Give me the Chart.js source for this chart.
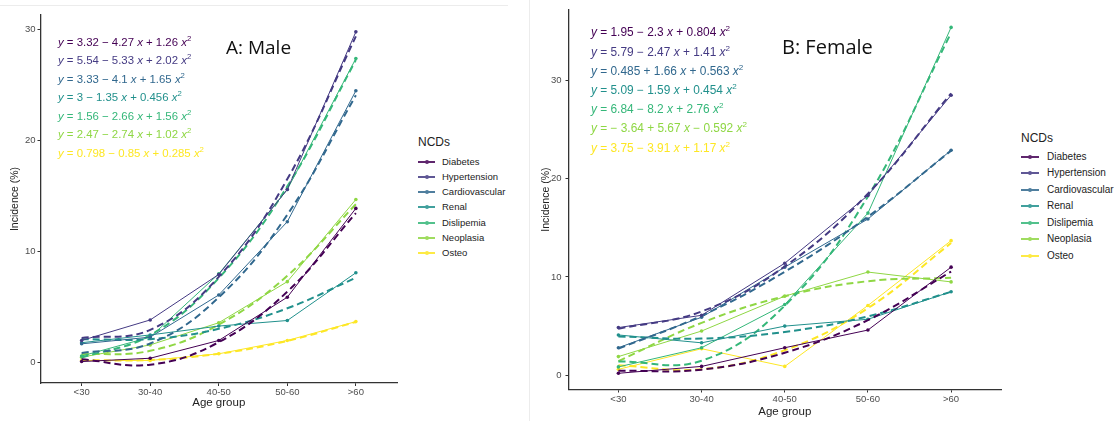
<!DOCTYPE html>
<html>
<head>
<meta charset="utf-8">
<title>NCD incidence by age group</title>
<script src="https://cdn.jsdelivr.net/npm/chart.js@4.4.0/dist/chart.umd.min.js"></script>
<style>
  body { margin: 0; background: #fff; width: 1117px; height: 421px; overflow: hidden; position: relative;
         font-family: "Liberation Sans", Arial, sans-serif; }
  canvas { position: absolute; top: 0; }
  #male { left: 0; }
  #female { left: 530px; }
  .eq { position: absolute; white-space: nowrap; line-height: 14px; }
  .eq sup { font-size: 0.68em; vertical-align: 0.6em; line-height: 0; }
  .ptitle { position: absolute; white-space: nowrap; font-family: "Open Sans", sans-serif; font-size: 19px;
            line-height: 24px; color: #111; }
  .lg-title { position: absolute; font-size: 12px; line-height: 14px; color: #222; }
  .lg-item { position: absolute; white-space: nowrap; line-height: 12px; color: #222; }
  .lg-sym { position: absolute; top: 5px; height: 2px; opacity: 0.85; }
  .lg-dot { position: absolute; top: -1px; width: 4px; height: 4px; border-radius: 2px; }
  .edge { position: absolute; background: #ececec; }
</style>
</head>
<body>
<div class="edge" style="left:0;top:5px;width:508px;height:1px"></div>
<div class="edge" style="left:529px;top:0;width:1px;height:421px"></div>
<canvas id="male" width="401" height="421"></canvas>
<canvas id="female" width="475" height="421"></canvas>
<div id="overlay"></div>
<script>
const ageGroups = ["<30", "30-40", "40-50", "50-60", ">60"];
const ncds = ["Diabetes", "Hypertension", "Cardiovascular", "Renal", "Dislipemia", "Neoplasia", "Osteo"];
const ncdColors = ["#440154", "#443A83", "#31688E", "#21908C", "#35B779", "#8FD744", "#FDE725"];

// A: Male - observed incidence (%)
const maleDiabetes = [0.1, 0.4, 2.0, 5.9, 13.9];
const maleHypertension = [2.0, 3.85, 7.95, 15.6, 29.8];
const maleCardiovascular = [1.7, 2.3, 6.1, 12.7, 24.5];
const maleRenal = [1.8, 2.5, 3.3, 3.8, 8.1];
const maleDislipemia = [0.6, 2.3, 8.0, 15.6, 27.4];
const maleNeoplasia = [0.5, 1.6, 3.6, 7.3, 14.7];
const maleOsteo = [0.2, 0.2, 0.8, 2.0, 3.7];

// A: Male - quadratic fit (dashed) at each age group
const maleDiabetesFit = [0.31, -0.18, 1.85, 6.40, 13.47];
const maleHypertensionFit = [2.23, 2.96, 7.73, 16.54, 29.39];
const maleCardiovascularFit = [0.88, 1.73, 5.88, 13.33, 24.08];
const maleRenalFit = [2.11, 2.12, 3.05, 4.90, 7.65];
const maleDislipemiaFit = [0.46, 2.48, 7.62, 15.88, 27.26];
const maleNeoplasiaFit = [0.75, 1.07, 3.43, 7.83, 14.27];
const maleOsteoFit = [0.23, 0.24, 0.81, 1.96, 3.67];

const maleEquations = [
  "3.32 − 4.27 x + 1.26 x^2",
  "5.54 − 5.33 x + 2.02 x^2",
  "3.33 − 4.1 x + 1.65 x^2",
  "3 − 1.35 x + 0.456 x^2",
  "1.56 − 2.66 x + 1.56 x^2",
  "2.47 − 2.74 x + 1.02 x^2",
  "0.798 − 0.85 x + 0.285 x^2"
];

// B: Female - observed incidence (%)
const femaleDiabetes = [0.2, 0.9, 2.8, 4.6, 11.0];
const femaleHypertension = [4.85, 6.1, 11.4, 18.3, 28.5];
const femaleCardiovascular = [2.8, 5.9, 11.0, 15.9, 22.9];
const femaleRenal = [4.1, 3.3, 5.0, 5.7, 8.5];
const femaleDislipemia = [0.85, 2.8, 7.2, 16.5, 35.4];
const femaleNeoplasia = [1.9, 4.5, 8.05, 10.5, 9.5];
const femaleOsteo = [0.6, 2.7, 0.9, 7.1, 13.7];

// B: Female - quadratic fit (dashed) at each age group
const femaleDiabetesFit = [0.45, 0.57, 2.29, 5.61, 10.55];
const femaleHypertensionFit = [4.73, 6.49, 11.07, 18.47, 28.69];
const femaleCardiovascularFit = [2.71, 6.06, 10.53, 16.13, 22.86];
const femaleRenalFit = [3.95, 3.73, 4.41, 5.99, 8.49];
const femaleDislipemiaFit = [1.40, 1.48, 7.08, 18.20, 34.84];
const femaleNeoplasiaFit = [1.44, 5.33, 8.04, 9.57, 9.91];
const femaleOsteoFit = [1.01, 0.61, 2.55, 6.83, 13.45];

const femaleEquations = [
  "1.95 − 2.3 x + 0.804 x^2",
  "5.79 − 2.47 x + 1.41 x^2",
  "0.485 + 1.66 x + 0.563 x^2",
  "5.09 − 1.59 x + 0.454 x^2",
  "6.84 − 8.2 x + 2.76 x^2",
  "− 3.64 + 5.67 x − 0.592 x^2",
  "3.75 − 3.91 x + 1.17 x^2"
];

const yTicks = [0, 10, 20, 30];

function toPoints(values) {
  return values.map((v, i) => ({ x: i + 1, y: v }));
}

function buildDatasets(observed, fitted) {
  const sets = [];
  ncds.forEach((name, k) => {
    sets.push({
      label: name + " fit",
      data: toPoints(fitted[k]),
      borderColor: ncdColors[k],
      borderWidth: 2,
      borderDash: [7, 4],
      pointRadius: 0,
      tension: 0.4,
      fill: false
    });
    sets.push({
      label: name,
      data: toPoints(observed[k]),
      borderColor: ncdColors[k],
      backgroundColor: ncdColors[k],
      borderWidth: 1,
      pointRadius: 1.8,
      pointBorderWidth: 0,
      tension: 0,
      fill: false
    });
  });
  return sets;
}

function makeChart(id, observed, fitted, o) {
  const ctx = document.getElementById(id).getContext("2d");
  return new Chart(ctx, {
    type: "line",
    data: { datasets: buildDatasets(observed, fitted) },
    options: {
      responsive: false,
      animation: false,
      layout: { padding: { top: o.top, right: o.right, left: 0, bottom: 0 } },
      plugins: { legend: { display: false }, tooltip: { enabled: false } },
      scales: {
        x: {
          type: "linear",
          min: 0.4,
          max: 5.6,
          afterBuildTicks: s => { s.ticks = ageGroups.map((_, i) => ({ value: i + 1 })); },
          afterFit: s => { s.height = o.xHeight; },
          ticks: {
            callback: v => ageGroups[v - 1],
            color: "#4d4d4d",
            font: { size: 9.5, family: "Liberation Sans" },
            padding: 1,
            maxRotation: 0,
            autoSkip: false
          },
          grid: { display: true, drawOnChartArea: false, drawTicks: true, tickLength: 3, color: "#333" },
          border: { display: true, color: "#333", width: 1.3 },
          title: {
            display: true, text: "Age group", color: "#222",
            font: { size: 11.5, family: "Liberation Sans" },
            padding: { top: 0, bottom: o.xTitlePad }
          }
        },
        y: {
          min: o.yMin,
          max: o.yMax,
          afterBuildTicks: s => { s.ticks = yTicks.map(v => ({ value: v })); },
          afterFit: s => { s.width = o.yWidth; },
          ticks: {
            color: "#4d4d4d",
            font: { size: 9.5, family: "Liberation Sans" },
            padding: o.yTickPad
          },
          grid: { display: true, drawOnChartArea: false, drawTicks: true, tickLength: 3, color: "#333" },
          border: { display: true, color: "#333", width: 1.3 },
          title: {
            display: true, text: "Incidence (%)", color: "#222",
            font: { size: 10.5, family: "Liberation Sans" },
            padding: { top: o.yTitlePad, bottom: 0 }
          }
        }
      }
    }
  });
}

makeChart("male",
  [maleDiabetes, maleHypertension, maleCardiovascular, maleRenal, maleDislipemia, maleNeoplasia, maleOsteo],
  [maleDiabetesFit, maleHypertensionFit, maleCardiovascularFit, maleRenalFit, maleDislipemiaFit, maleNeoplasiaFit, maleOsteoFit],
  { top: 15, right: 1, xHeight: 38, yWidth: 40.5, yMin: -1.83, yMax: 31.32, xTitlePad: 11, yTitlePad: 9, yTickPad: 2 });

makeChart("female",
  [femaleDiabetes, femaleHypertension, femaleCardiovascular, femaleRenal, femaleDislipemia, femaleNeoplasia, femaleOsteo],
  [femaleDiabetesFit, femaleHypertensionFit, femaleCardiovascularFit, femaleRenalFit, femaleDislipemiaFit, femaleNeoplasiaFit, femaleOsteoFit],
  { top: 4, right: 2, xHeight: 31.5, yWidth: 38.5, yMin: -1.45, yMax: 37.2, xTitlePad: 2, yTitlePad: 10, yTickPad: 4 });

// equations, panel titles and legends as html text
const overlay = document.getElementById("overlay");

function addEl(cls, html, left, top, extra) {
  const d = document.createElement("div");
  d.className = cls;
  d.innerHTML = html;
  d.style.left = Math.round(left) + "px";
  d.style.top = Math.round(top) + "px";
  if (extra) Object.assign(d.style, extra);
  overlay.appendChild(d);
  return d;
}

function eqHtml(s) {
  return "<i>y</i> = " + s.replace(/x\^2/g, "<i>x</i><sup>2</sup>").replace(/ x /g, " <i>x</i> ");
}

function addEquations(eqs, left, firstY, step, size) {
  eqs.forEach((s, k) => {
    addEl("eq", eqHtml(s), left, firstY + k * step - 7, { color: ncdColors[k], fontSize: size + "px" });
  });
}

function addLegend(left, titleY, firstY, step, symW, textLeft, size) {
  addEl("lg-title", "NCDs", left, titleY - 7);
  ncds.forEach((name, k) => {
    const item = addEl("lg-item", "", left, firstY + k * step - 6, { fontSize: size + "px" });
    const sym = document.createElement("div");
    sym.className = "lg-sym";
    sym.style.left = "0px";
    sym.style.width = symW + "px";
    sym.style.background = ncdColors[k];
    const dot = document.createElement("div");
    dot.className = "lg-dot";
    dot.style.left = Math.round(symW / 2 - 2) + "px";
    dot.style.background = ncdColors[k];
    sym.appendChild(dot);
    item.appendChild(sym);
    const t = document.createElement("span");
    t.textContent = name;
    t.style.position = "absolute";
    t.style.left = (textLeft - left) + "px";
    item.appendChild(t);
  });
}

addEquations(maleEquations, 58, 41.7, 18.5, 11.4);
addEquations(femaleEquations, 591, 32.3, 19.2, 11.9);

addEl("ptitle", "A: Male", 226, 35);
addEl("ptitle", "B: Female", 782, 35, { fontSize: "20px" });

addLegend(418, 141.7, 161.7, 15.25, 17, 442, 9.5);
addLegend(1021, 137.7, 156.7, 16.5, 18, 1047, 10);
</script>
</body>
</html>
